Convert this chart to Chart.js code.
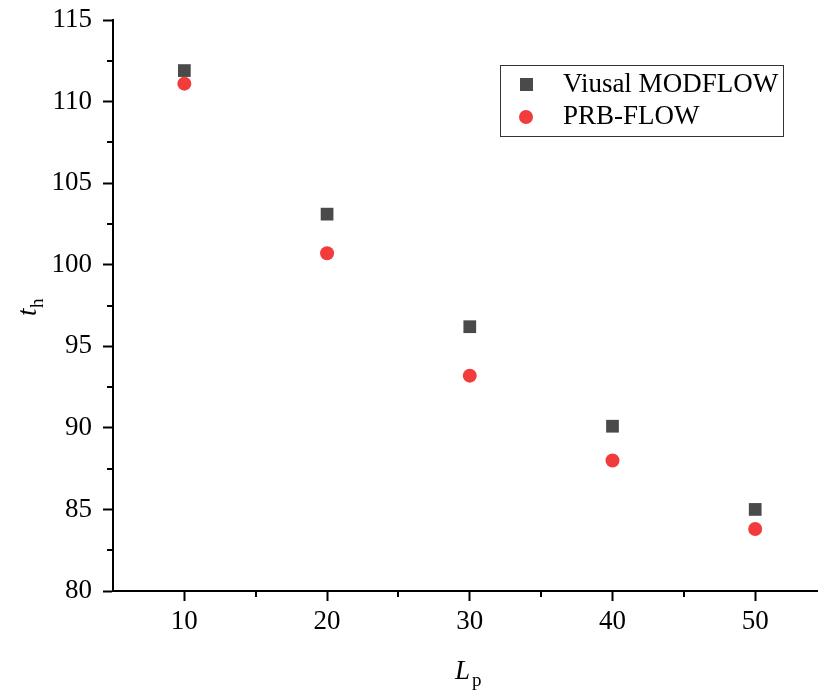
<!DOCTYPE html>
<html lang="en">

<head>
    <meta charset="UTF-8">
    <title>t_h vs L_p</title>
    <script src="https://cdn.jsdelivr.net/npm/chart.js@4.4.0/dist/chart.umd.min.js"></script>
    <style>
        body { margin: 0; background: #fff; }
        #wrap { width: 818px; height: 693px; }
    </style>
</head>

<body>
    <div id="wrap"><canvas id="canvas"></canvas></div>
    <script>
        // data
        const lpValues = [10, 20, 30, 40, 50];
        const modflowValues = [111.9, 103.1, 96.2, 90.1, 85.0];
        const prbValues = [111.1, 100.7, 93.2, 88.0, 83.8];
        const xTicks = [10, 20, 30, 40, 50];
        const xMinorTicks = [15, 25, 35, 45];
        const yMinorTicks = [82.5, 87.5, 92.5, 97.5, 102.5, 107.5, 112.5];

        const serif = "'Liberation Serif', 'Times New Roman', serif";

        // minor ticks, axis titles with subscripts, legend box
        const extras = {
            id: 'extras',
            afterDraw(chart) {
                const ctx = chart.ctx;
                const x = chart.scales.x, y = chart.scales.y;
                ctx.save();
                ctx.strokeStyle = '#000';
                ctx.lineWidth = 2;
                ctx.beginPath();
                xMinorTicks.forEach(v => {
                    const px = Math.round(x.getPixelForValue(v));
                    ctx.moveTo(px, x.top);
                    ctx.lineTo(px, x.top + 6);
                });
                yMinorTicks.forEach(v => {
                    const py = Math.round(y.getPixelForValue(v));
                    ctx.moveTo(y.right, py);
                    ctx.lineTo(y.right - 6, py);
                });
                ctx.stroke();

                // legend
                const ds = chart.data.datasets;
                ctx.strokeStyle = '#333';
                ctx.lineWidth = 1;
                ctx.strokeRect(500.5, 65.5, 283, 71);
                ctx.font = '27px ' + serif;
                ctx.fillStyle = '#000';
                ctx.textBaseline = 'middle';
                ctx.fillText(ds[0].label, 563, 85);
                ctx.fillText(ds[1].label, 563, 117);
                ctx.fillStyle = ds[0].backgroundColor;
                ctx.fillRect(520, 78, 13, 13);
                ctx.fillStyle = ds[1].backgroundColor;
                ctx.beginPath();
                ctx.arc(526, 117, 7, 0, Math.PI * 2);
                ctx.fill();

                ctx.fillStyle = '#000';
                ctx.textBaseline = 'alphabetic';
                // x title: L_p
                ctx.font = 'italic 27px ' + serif;
                ctx.fillText('L', 455, 679);
                ctx.font = '19px ' + serif;
                ctx.fillText('p', 472, 686);
                // y title: t_h (rotated)
                ctx.translate(36, 316);
                ctx.rotate(-Math.PI / 2);
                ctx.font = 'italic 27px ' + serif;
                ctx.fillText('t', 0, 0);
                ctx.font = '19px ' + serif;
                ctx.fillText('h', 8, 7);
                ctx.restore();
            }
        };

        let ctx = document.getElementById('canvas').getContext('2d');
        let config = {
            type: 'scatter',
            data: {
                datasets: [{
                    label: 'Viusal MODFLOW',
                    data: lpValues.map((v, i) => ({ x: v, y: modflowValues[i] })),
                    pointStyle: 'rect',
                    pointRadius: 9,
                    pointHoverRadius: 9,
                    backgroundColor: '#4a4a4a',
                    borderColor: '#4a4a4a',
                    borderWidth: 0
                }, {
                    label: 'PRB-FLOW',
                    data: lpValues.map((v, i) => ({ x: v, y: prbValues[i] })),
                    pointStyle: 'circle',
                    pointRadius: 7,
                    pointHoverRadius: 7,
                    backgroundColor: '#f23c3c',
                    borderColor: '#f23c3c',
                    borderWidth: 0
                }]
            },
            options: {
                responsive: true,
                maintainAspectRatio: false,
                animation: false,
                layout: { autoPadding: false, padding: { top: 20, right: 0, left: 0, bottom: 0 } },
                plugins: {
                    legend: { display: false },
                    tooltip: { enabled: false }
                },
                scales: {
                    x: {
                        type: 'linear',
                        min: 5,
                        max: 54.4,
                        afterBuildTicks: scale => { scale.ticks = xTicks.map(v => ({ value: v })); },
                        afterFit: scale => {
                            scale.height = 102;
                            scale.paddingLeft = 0;
                            scale.paddingRight = 0;
                        },
                        border: { display: true, color: '#000', width: 2 },
                        grid: { drawOnChartArea: false, tickLength: 10, tickColor: '#000', tickWidth: 2 },
                        ticks: { color: '#000', font: { family: serif, size: 27 }, padding: 5, maxRotation: 0 }
                    },
                    y: {
                        min: 80,
                        max: 115,
                        afterFit: scale => {
                            scale.width = 113;
                            scale.paddingTop = 0;
                            scale.paddingBottom = 0;
                        },
                        border: { display: true, color: '#000', width: 2 },
                        grid: { drawOnChartArea: false, tickLength: 10, tickColor: '#000', tickWidth: 2 },
                        ticks: { stepSize: 5, color: '#000', font: { family: serif, size: 27 }, padding: 11 }
                    }
                }
            },
            plugins: [extras]
        };

        let chart = new Chart(ctx, config);
    </script>
</body>

</html>
